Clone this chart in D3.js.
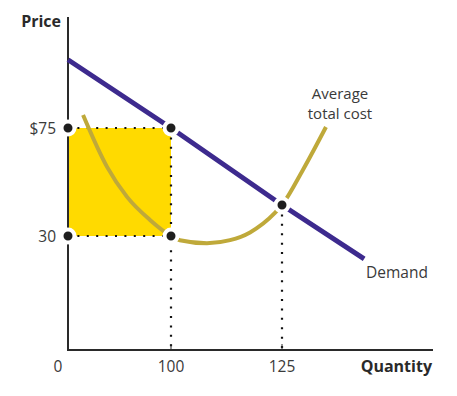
<!DOCTYPE html>
<html>
  <head>
    <meta charset="UTF-8">
    <style>
      body {
        margin: 0;
        background: white;
        font-family: 'Open Sans', Lato, sans-serif;
      }
      .tick-label {
        fill: #3a3a3a;
        font-size: 15.5px;
      }
      .curve-label {
        fill: #3a3a3a;
        font-size: 15px;
      }
      .axis-title {
        fill: #2a2a2a;
        font-size: 16px;
        font-weight: bold;
      }
    </style>
    <script src="https://d3js.org/d3.v7.min.js"></script>
  </head>
  <body>
    <svg id="chart"></svg>
    <script>
      // schematic axes: only these ticks are labelled
      const xTicks = [0, 100, 125]
      const yTicks = [30, 75]
      const yTickLabels = ['30', '$75']

      // demand line (quantity, price)
      const demand = [[0, 103.3], [100, 75], [125, 42.9], [143.5, 24]]

      // average total cost curve (quantity, price)
      const atc = [
        [14.6, 80.4], [37.9, 58.8], [57.3, 46.3], [79.6, 36.7], [100, 30],
        [102, 28.9], [108.1, 28.1], [113.3, 28.9], [117.8, 31.5],
        [123.4, 39.6], [125, 42.9], [129.7, 57.5], [134.9, 75.4]
      ]

      // highlighted points
      const points = [[0, 75], [100, 75], [0, 30], [100, 30], [125, 42.9]]

      const width = 457
      const height = 396

      const svg = d3.select('#chart')
        .attr('width', width)
        .attr('height', height)

      // piecewise scales because the original axes are not to scale
      const x = d3.scaleLinear()
        .domain([0, 100, 125, 159])
        .range([68, 171, 282, 433])

      const y = d3.scaleLinear()
        .domain([0, 30, 75, 121])
        .range([350, 236, 128, 17])

      // profit rectangle
      svg.append('rect')
        .attr('x', x(0))
        .attr('y', y(75))
        .attr('width', x(100) - x(0))
        .attr('height', y(30) - y(75))
        .attr('fill', '#ffda00')

      // dotted guides
      const guides = [
        [[0, 75], [100, 75]],
        [[0, 30], [100, 30]],
        [[100, 75], [100, 0]],
        [[125, 42.9], [125, 0]]
      ]
      const guideLine = d3.line().x(d => x(d[0])).y(d => y(d[1]))
      svg.selectAll('.guide')
        .data(guides)
        .join('path')
          .attr('class', 'guide')
          .attr('d', guideLine)
          .attr('fill', 'none')
          .attr('stroke', '#111')
          .attr('stroke-width', 2.2)
          .attr('stroke-dasharray', '2 7.4')

      // axes
      svg.append('line')
        .attr('x1', x(0)).attr('x2', x(0))
        .attr('y1', y(121)).attr('y2', y(0))
        .attr('stroke', '#2a2a2a')
        .attr('stroke-width', 2)
      svg.append('line')
        .attr('x1', x(0) - 1).attr('x2', x(159))
        .attr('y1', y(0)).attr('y2', y(0))
        .attr('stroke', '#2a2a2a')
        .attr('stroke-width', 2)

      svg.selectAll('.xtick')
        .data(xTicks.slice(1))
        .join('line')
          .attr('class', 'xtick')
          .attr('x1', d => x(d)).attr('x2', d => x(d))
          .attr('y1', y(0) - 6).attr('y2', y(0))
          .attr('stroke', '#2a2a2a')
          .attr('stroke-width', 1)

      svg.selectAll('.xlabel')
        .data(xTicks)
        .join('text')
          .attr('class', 'tick-label')
          .attr('x', d => d === 0 ? x(d) - 10 : x(d))
          .attr('y', y(0) + 22)
          .attr('text-anchor', 'middle')
          .text(d => d)

      svg.selectAll('.ylabel')
        .data(yTicks)
        .join('text')
          .attr('class', 'tick-label')
          .attr('x', x(0) - 12)
          .attr('y', d => y(d) + 6)
          .attr('text-anchor', 'end')
          .text((d, i) => yTickLabels[i])

      svg.append('text')
        .attr('class', 'axis-title')
        .attr('x', 61)
        .attr('y', 27)
        .attr('text-anchor', 'end')
        .text('Price')

      svg.append('text')
        .attr('class', 'axis-title')
        .attr('x', 432)
        .attr('y', 372)
        .attr('text-anchor', 'end')
        .text('Quantity')

      // curves
      const line = d3.line()
        .x(d => x(d[0]))
        .y(d => y(d[1]))

      svg.append('path')
        .datum(atc)
        .attr('d', line.curve(d3.curveMonotoneX))
        .attr('fill', 'none')
        .attr('stroke', '#bfa93a')
        .attr('stroke-width', 4)

      svg.append('path')
        .datum(demand)
        .attr('d', line.curve(d3.curveLinear))
        .attr('fill', 'none')
        .attr('stroke', '#3d2a8e')
        .attr('stroke-width', 5)

      // dots
      svg.selectAll('.dot')
        .data(points)
        .join('circle')
          .attr('class', 'dot')
          .attr('cx', d => x(d[0]))
          .attr('cy', d => y(d[1]))
          .attr('r', 6.5)
          .attr('fill', '#1e1e1e')
          .attr('stroke', 'white')
          .attr('stroke-width', 4)

      // curve labels
      const atcLabel = svg.append('text')
        .attr('class', 'curve-label')
        .attr('text-anchor', 'middle')
      atcLabel.append('tspan').attr('x', 340).attr('y', 99).text('Average')
      atcLabel.append('tspan').attr('x', 340).attr('y', 119).text('total cost')

      svg.append('text')
        .attr('class', 'tick-label')
        .attr('x', 366)
        .attr('y', 278)
        .text('Demand')
    </script>
  </body>
</html>
